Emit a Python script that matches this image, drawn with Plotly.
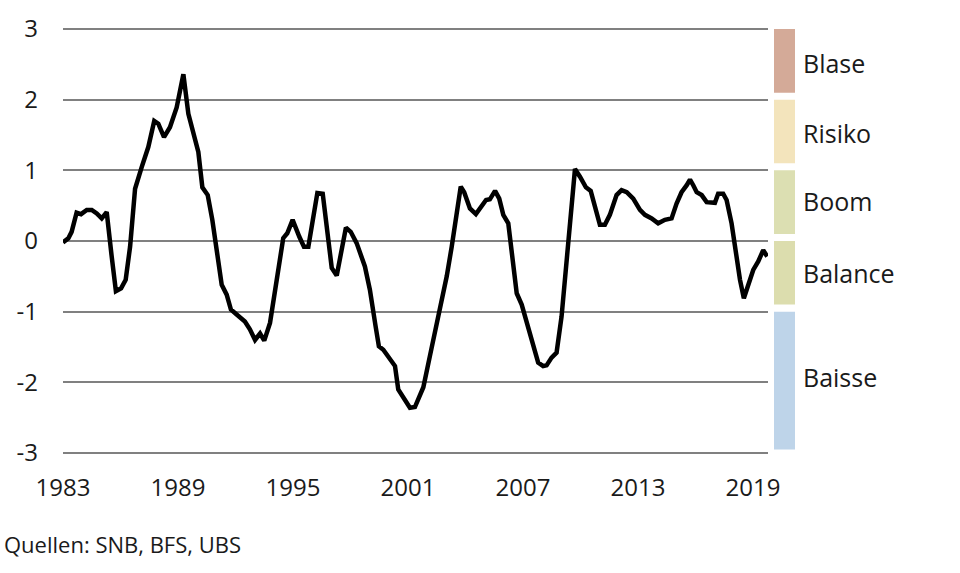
import plotly.graph_objects as go

years = [1983.00, 1983.28, 1983.45, 1983.71, 1983.94, 1984.24, 1984.50, 1984.76, 1985.02, 1985.28,
         1985.54, 1985.76, 1986.03, 1986.27, 1986.50, 1986.76, 1987.11, 1987.45, 1987.76, 1987.97,
         1988.27, 1988.58, 1988.93, 1989.28, 1989.54, 1989.80, 1990.06, 1990.27, 1990.55, 1990.79,
         1991.07, 1991.28, 1991.54, 1991.76, 1992.06, 1992.49, 1992.75, 1993.02, 1993.28, 1993.50,
         1993.80, 1994.15, 1994.49, 1994.70, 1994.98, 1995.33, 1995.57, 1995.80, 1996.15, 1996.27,
         1996.55, 1996.81, 1997.02, 1997.28, 1997.54, 1997.76, 1998.01, 1998.32, 1998.75, 1999.01,
         1999.31, 1999.48, 1999.71, 2000.06, 2000.32, 2000.49, 2000.75, 2001.10, 2001.36, 2001.80,
         2002.14, 2002.67, 2003.02, 2003.28, 2003.54, 2003.75, 2003.93, 2004.23, 2004.54, 2004.79,
         2005.07, 2005.27, 2005.54, 2005.76, 2005.97, 2006.23, 2006.41, 2006.67, 2006.93, 2007.27,
         2007.62, 2007.79, 2008.05, 2008.23, 2008.49, 2008.75, 2009.01, 2009.28, 2009.45, 2009.71,
         2009.97, 2010.28, 2010.53, 2010.75, 2011.01, 2011.27, 2011.53, 2011.88, 2012.14, 2012.41,
         2012.75, 2013.10, 2013.36, 2013.71, 2014.05, 2014.40, 2014.75, 2015.01, 2015.27, 2015.54,
         2015.71, 2015.88, 2016.06, 2016.32, 2016.58, 2017.01, 2017.18, 2017.44, 2017.62, 2017.88,
         2018.14, 2018.32, 2018.52, 2018.75, 2019.01, 2019.27, 2019.53, 2019.74]

index_values = [-0.02, 0.04, 0.13, 0.40, 0.38, 0.44, 0.44, 0.39, 0.32, 0.41,
                -0.22, -0.71, -0.67, -0.55, -0.08, 0.74, 1.05, 1.33, 1.70, 1.66,
                1.47, 1.61, 1.89, 2.36, 1.80, 1.54, 1.26, 0.76, 0.65, 0.30,
                -0.22, -0.62, -0.76, -0.97, -1.04, -1.14, -1.25, -1.40, -1.31, -1.41,
                -1.16, -0.50, 0.04, 0.11, 0.30, 0.06, -0.08, -0.08, 0.46, 0.68,
                0.67, 0.11, -0.38, -0.49, -0.13, 0.19, 0.13, -0.03, -0.36, -0.69,
                -1.21, -1.49, -1.54, -1.68, -1.77, -2.10, -2.22, -2.36, -2.35, -2.07,
                -1.63, -0.97, -0.50, -0.08, 0.37, 0.77, 0.69, 0.46, 0.38, 0.48,
                0.58, 0.59, 0.71, 0.60, 0.37, 0.25, -0.13, -0.74, -0.90, -1.21,
                -1.54, -1.72, -1.77, -1.76, -1.65, -1.58, -1.07, -0.27, 0.30, 1.02,
                0.91, 0.76, 0.71, 0.48, 0.23, 0.23, 0.37, 0.65, 0.72, 0.69,
                0.60, 0.44, 0.37, 0.32, 0.25, 0.30, 0.32, 0.53, 0.69, 0.79,
                0.87, 0.79, 0.69, 0.65, 0.55, 0.54, 0.67, 0.67, 0.58, 0.25,
                -0.27, -0.55, -0.81, -0.60, -0.41, -0.29, -0.13, -0.22]

x_ticks = [1983, 1989, 1995, 2001, 2007, 2013, 2019]
y_ticks = [3, 2, 1, 0, -1, -2, -3]

band_labels = ["Blase", "Risiko", "Boom", "Balance", "Baisse"]
band_tops = [3.0, 2.0, 1.0, 0.0, -1.0]
band_bottoms = [2.1, 1.1, 0.1, -0.9, -2.95]
band_label_y = [2.52, 1.53, 0.57, -0.45, -1.92]
band_colors = ["#d4aa98", "#f3e4bc", "#dcdfb2", "#dcddae", "#bed4e9"]

source_text = "Quellen: SNB, BFS, UBS"

FONT = "Open Sans"
TXT = "#1a1a1a"

# plot area in page/figure pixels (body margin removed below)
PL, PR, PT, PB = 63, 768, 28, 454
W, H = 960, 573
pw, ph = PR - PL, PB - PT

fig = go.Figure()
fig.add_trace(go.Scatter(
    x=years, y=index_values, mode="lines",
    line=dict(color="#000000", width=4.5),
    showlegend=False, hoverinfo="x+y",
))

for lab, top, bot, ly, col in zip(band_labels, band_tops, band_bottoms, band_label_y, band_colors):
    fig.add_shape(type="rect", xref="paper", yref="y",
                  x0=(774 - PL) / pw, x1=(795 - PL) / pw, y0=bot, y1=top,
                  fillcolor=col, line=dict(width=0), layer="above")
    fig.add_annotation(text=lab, xref="paper", yref="y", x=(801 - PL) / pw, y=ly,
                       xanchor="left", yanchor="middle", showarrow=False,
                       font=dict(family=FONT, size=25, color=TXT))

fig.add_annotation(text=source_text, xref="paper", yref="paper",
                   x=-(PL - 2) / pw, y=-(544 - PB) / ph, xanchor="left", yanchor="middle",
                   showarrow=False, font=dict(family=FONT, size=22, color=TXT))

fig.update_layout(
    width=W, height=H,
    margin=dict(l=PL, r=W - PR, t=PT, b=H - PB),
    paper_bgcolor="white", plot_bgcolor="white",
    font=dict(family=FONT, size=24, color=TXT),
    xaxis=dict(range=[1983.0, 2019.78], tickvals=x_ticks, ticktext=[str(v) for v in x_ticks],
               showgrid=False, zeroline=False, showline=False, ticks="", automargin=False,
               ticklabelstandoff=17, tickfont=dict(size=24, color=TXT)),
    yaxis=dict(range=[-3.015, 3.015], tickvals=y_ticks, ticktext=[str(v) for v in y_ticks],
               showgrid=True, gridcolor="#808080", gridwidth=2, automargin=False,
               zeroline=False, showline=False, ticks="",
               ticklabelstandoff=24, tickfont=dict(size=24, color=TXT)),
)

fig.write_html("out.html", config={"displayModeBar": False},
               post_script="document.body.style.margin='0';document.body.style.overflow='hidden';")
